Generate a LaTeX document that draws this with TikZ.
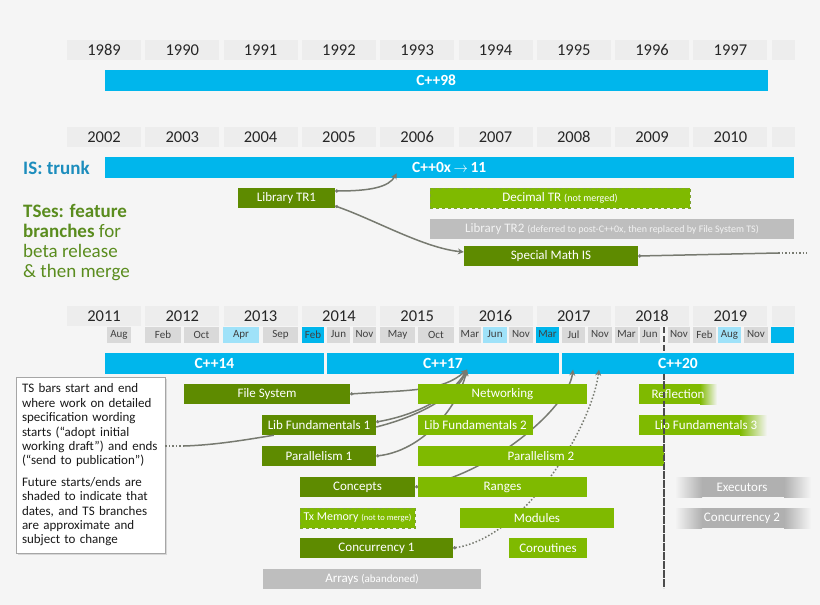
\documentclass[tikz,border=0pt]{standalone}
\usepackage{fontspec}
\setmainfont{Carlito}
\usetikzlibrary{arrows.meta,shadows}
\definecolor{bgc}{HTML}{F5F5F5}
\definecolor{cellc}{HTML}{EDEDED}
\definecolor{monc}{HTML}{D9D9D9}
\definecolor{skyc}{HTML}{9FE2F9}
\definecolor{cyanc}{HTML}{00B6EC}
\definecolor{dkgreen}{HTML}{5E8B00}
\definecolor{ltgreen}{HTML}{7FBA00}
\definecolor{greyc}{HTML}{BEBEBE}
\definecolor{fadec}{HTML}{B0B0B0}
\definecolor{linec}{HTML}{777A70}
\definecolor{isblue}{HTML}{1C8DBD}
\definecolor{tsgreen}{HTML}{5A8C1E}
\newcommand\fsz[1]{\fontsize{#1}{#1}\selectfont}
\tikzset{
  yr/.style={fill=cellc, minimum width=74, minimum height=20, inner sep=0pt, text=black!85, font=\fsz{16.5}},
  mo/.style={fill=monc, minimum height=16, inner sep=0pt, text=black!75, font=\fsz{11}},
  bar/.style={fill=cyanc, minimum height=21, inner sep=0pt, text=white, font=\bfseries\fsz{15.5}},
  ts/.style={minimum height=20, inner sep=0pt, text=white, font=\fsz{13}},
  dk/.style={ts, fill=dkgreen},
  lt/.style={ts, fill=ltgreen},
  gr/.style={ts, fill=greyc},
  tsdash/.style={ts, fill=ltgreen, draw=dkgreen!80, dashed, line width=0.8pt},
  link/.style={draw=linec, line width=1.5pt, {Circle[length=3pt]}-{Stealth[length=6pt,width=6pt]}},
  wire/.style={draw=linec, line width=1.5pt},
  cut/.style={draw=black!70, line width=2pt, dash pattern=on 6pt off 3pt},
}
\pgfdeclarelayer{bg}\pgfdeclarelayer{links}\pgfsetlayers{bg,links,main}
\begin{document}
\begin{tikzpicture}[x=1pt,y=-1pt]
\begin{pgfonlayer}{bg}
\fill[bgc] (0,0) rectangle (820,605);
\foreach \yr [count=\i from 0] in {1989,...,1997} \node[yr] (a\i) at ({104+78.3*\i},50) {\yr};
\foreach \yr [count=\i from 0] in {2002,...,2010} \node[yr] (b\i) at ({104+78.3*\i},137) {\yr};
\foreach \yr [count=\i from 0] in {2011,...,2019} \node[yr] (c\i) at ({104+78.3*\i},316) {\yr};
\node[yr, minimum width=23] (a9) at (783,50) {}; \node[yr, minimum width=23] (b9) at (783,137) {};
\node[yr, minimum width=23] (c9) at (783,316) {};
\foreach \l/\r/\m/\c [count=\k] in {107/131/Aug/monc, 145/181/Feb/monc, 184/219/Oct/monc, 223/259/Apr/skyc,
    263/298/Sep/monc, 302/324/Feb/cyanc, 327/350/Jun/monc, 353/376/Nov/monc, 380/415/May/monc,
    418/454/Oct/monc, 459/481/Mar/monc, 483/507/Jun/skyc, 509/533/Nov/monc, 536/559/Mar/cyanc,
    562/585/Jul/monc, 588/612/Nov/monc, 615/638/Mar/monc, 640/660/Jun/monc, 668/690/Nov/monc,
    693/716/Feb/monc, 718/741/Aug/skyc, 744/768/Nov/monc, 771/794/{}/cyanc}
  \node[mo, fill=\c, minimum width={\r-\l}] (m\k) at ({(\l+\r)/2},334.5) {\m};
\coordinate (cutT) at (664,327); \coordinate (cutB) at (664,588);
\draw[cut] (cutT) -- (cutB);
\node[bar, minimum width=663.5] (c98) at (436.25,80.5) {C++98};
\node[bar, minimum width=689.5] (c0x) at (449.25,167.5) {C++0x\,$\rightarrow$\,11};
\node[bar, minimum width=219] (c14) at (214.5,363) {C++14};
\node[bar, minimum width=232] (c17) at (443,363) {C++17};
\node[bar, minimum width=232] (c20) at (678,363) {C++20};
\end{pgfonlayer}
\node[anchor=west, text=isblue, font=\bfseries\fsz{19}, inner sep=0pt] (is) at (23,168) {IS: trunk};
\node[anchor=north west, align=left, text=tsgreen, font=\fontsize{19}{20}\selectfont, inner sep=0pt] (tses) at (23,204)
  {\textbf{TSes: feature}\\ \textbf{branches} for\\ beta release\\ \& then merge};
\node[dk, minimum width=97] (tr1) at (286.5,198) {Library TR1};
\node[tsdash, minimum width=260] (dec) at (560,198) {Decimal TR {\fsz{10}(not merged)}};
\node[gr, minimum width=364, text=white!95!black] (tr2) at (612,229)
  {Library TR2 {\fsz{10}(deferred to post-C++0x, then replaced by File System TS)}};
\node[dk, minimum width=174] (sm) at (551,256) {Special Math IS};
\coordinate (smr) at (778,253); \coordinate (smd) at (807,253);
\node[draw=black!35, fill=white, line width=0.8pt, drop shadow={opacity=0.25, shadow xshift=1.5pt, shadow yshift=-1.5pt},
  text width=137pt, inner xsep=6pt, inner ysep=5pt, minimum height=176, align=left,
  font=\fontsize{13}{14.4}\selectfont, text=black!90] (note) at (90.5,465)
  {TS bars start and end\\ where work on detailed\\ specification wording\\ starts (“adopt initial\\
   working draft”) and ends\\ (“send to publication”)\\[7pt] Future starts/ends are\\ shaded to indicate that\\
   dates, and TS branches\\ are approximate and\\ subject to change};
\coordinate (cA) at (184,446);
\node[dk, minimum width=166] (fs) at (267,394) {File System};
\node[dk, minimum width=114] (lf1) at (319,425) {Lib Fundamentals 1};
\node[dk, minimum width=114] (par1) at (319,456) {Parallelism 1};
\node[dk, minimum width=115] (conc) at (357.5,487) {Concepts};
\node[tsdash, minimum width=115, font=\fsz{12}] (txm) at (357.5,518) {Tx Memory {\fsz{8.5}(not to merge)}};
\node[dk, minimum width=153] (cc1) at (376.5,548) {Concurrency 1};
\node[gr, minimum width=218] (arr) at (372,579) {Arrays {\fsz{11}(abandoned)}};
\node[lt, minimum width=169] (net) at (502.5,394) {Networking};
\node[lt, minimum width=115] (lf2) at (475.5,425) {Lib Fundamentals 2};
\node[lt, minimum width=246] (par2) at (541,456) {Parallelism 2};
\node[lt, minimum width=169] (rng) at (502.5,487) {Ranges};
\node[lt, minimum width=154] (mod) at (537,518) {Modules};
\node[lt, minimum width=78] (cor) at (548,548) {Coroutines};
\fill[ltgreen] (639,384) rectangle (700,404);
\shade[left color=ltgreen, right color=bgc] (700,384) rectangle (717,404);
\node[ts] (refl) at (678,394) {Reflection};
\fill[ltgreen] (639,415) rectangle (740,435);
\shade[left color=ltgreen, right color=bgc] (740,415) rectangle (767,435);
\node[ts] (lf3) at (706,425) {Lib Fundamentals 3};
\foreach \yy in {477,508} {
  \shade[left color=bgc, right color=fadec] (675,\yy) rectangle (702,\yy+20);
  \fill[fadec] (702,\yy) rectangle (784,\yy+20);
  \shade[left color=fadec, right color=bgc] (784,\yy) rectangle (811,\yy+20);
}
\node[ts] (exe) at (742,487) {Executors};
\node[ts] (cc2) at (742,518) {Concurrency 2};
\draw[cut] (cutT |- c20.south) -- (cutB);
\draw[wire, dotted] ([yshift=19pt]note.east) -- (cA);
\draw[wire] (cA) .. controls (215,445) and (245,440) .. ([xshift=12pt]lf1.south west);
\begin{pgfonlayer}{links}
\coordinate (t0x) at ([xshift=-52.5pt,yshift=5pt]c0x.south);
\coordinate (t17) at ([xshift=24pt,yshift=4pt]c17.south);
\coordinate (t20) at ([xshift=-105pt,yshift=4pt]c20.south);
\coordinate (t20b) at ([xshift=-79pt,yshift=4pt]c20.south);
\draw[link] ([yshift=7pt]tr1.east) .. controls +(35,0) and +(-8,14) .. (t0x);
\draw[link] ([yshift=-8pt]tr1.east) .. controls +(40,14) and +(-40,-4) .. ([yshift=4pt]sm.west);
\draw[wire, {Circle[length=3pt]}-] (sm.east) -- (smr);
\draw[wire, dotted] (smr) -- (smd);
\draw[wire, -{Stealth[length=6pt,width=6pt]}] ([yshift=-2pt]lf1.east) .. controls +(40,-10) and +(-12,28) .. (t17);
\draw[link] (fs.east) .. controls +(60,-4) and +(-25,22) .. (t17);
\draw[link] ([yshift=3pt]lf1.east) .. controls +(45,-8) and +(-15,25) .. (t17);
\draw[link] (par1.east) .. controls +(45,-5) and +(-10,40) .. (t17);
\draw[link] (conc.east) .. controls +(70,-10) and +(-5,40) .. (t20);
\draw[link, dotted] (cc1.east) .. controls +(70,-10) and +(-8,60) .. (t20b);
\end{pgfonlayer}
\end{tikzpicture}
\end{document}
